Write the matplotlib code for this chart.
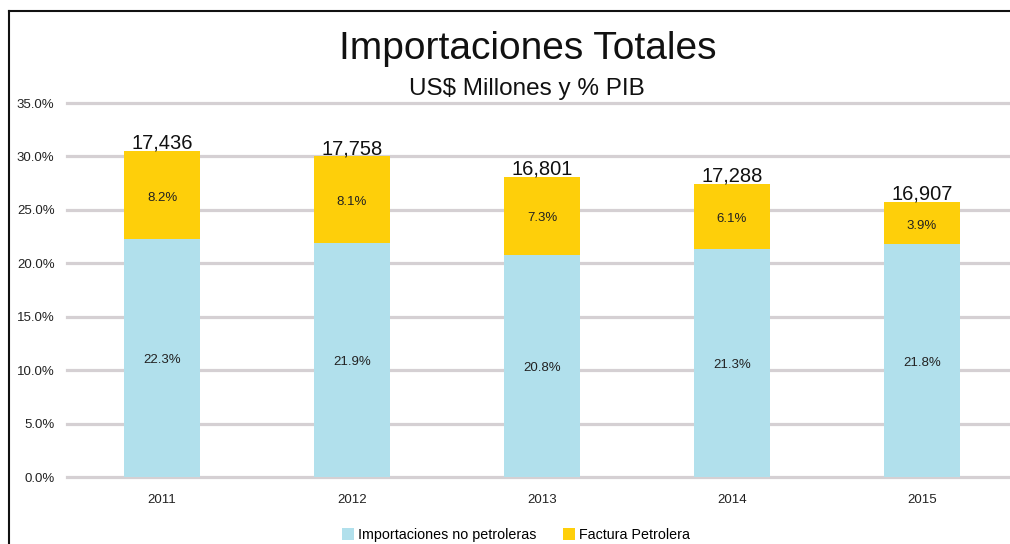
import matplotlib
matplotlib.use("Agg")
import matplotlib.pyplot as plt
from matplotlib.patches import Patch
from matplotlib.lines import Line2D

years = ["2011", "2012", "2013", "2014", "2015"]
no_petroleras = [22.3, 21.9, 20.8, 21.3, 21.8]
factura_petrolera = [8.2, 8.1, 7.3, 6.1, 3.9]
totales = ["17,436", "17,758", "16,801", "17,288", "16,907"]
yticks = [0, 5, 10, 15, 20, 25, 30, 35]

blue = "#b1e0ec"
yellow = "#fecf0a"
grid = "#d5d0d3"

plt.rcParams['font.family'] = ['Liberation Sans', 'DejaVu Sans']

fig = plt.figure(figsize=(10.10, 5.44), dpi=100)
ax = fig.add_axes([67/1010, 67/544, 950/1010, 374/544])

x = list(range(len(years)))
ax.bar(x, no_petroleras, width=0.405, color=blue, zorder=3)
ax.bar(x, factura_petrolera, width=0.405, bottom=no_petroleras, color=yellow, zorder=3)

for i in x:
    ax.text(i, no_petroleras[i] / 2 - 0.2, f"{no_petroleras[i]:.1f}%", ha="center", va="center",
            fontsize=9.5, color="#222222", zorder=4)
    ax.text(i, no_petroleras[i] + factura_petrolera[i] / 2 - 0.25, f"{factura_petrolera[i]:.1f}%",
            ha="center", va="center", fontsize=9.5, color="#222222", zorder=4)
    ax.text(i, no_petroleras[i] + factura_petrolera[i] - 0.15, totales[i], ha="center",
            va="bottom", fontsize=14.5, color="#111111", zorder=4)

ax.set_xlim(-0.5, 4.5)
ax.set_ylim(0, 35)
ax.set_yticks(yticks)
ax.set_yticklabels([f"{t:.1f}%" for t in yticks])
ax.set_xticks(x)
ax.set_xticklabels(years)
ax.tick_params(axis="both", length=0, labelsize=9.5, labelcolor="#222222")
ax.tick_params(axis="y", pad=9)
ax.tick_params(axis="x", pad=12)
ax.yaxis.grid(True, color=grid, linewidth=2.3, zorder=0)
ax.set_axisbelow(True)
for s in ax.spines.values():
    s.set_visible(False)
for gl in ax.get_ygridlines():
    gl.set_clip_on(False)

fig.text(528/1010, 1 - 49/544, "Importaciones Totales", ha="center", va="center",
         fontsize=28, color="#111111")
fig.text(527/1010, 1 - 89/544, "US$ Millones y % PIB", ha="center", va="center",
         fontsize=17.5, color="#111111")

handles = [Patch(facecolor=blue, edgecolor="none"), Patch(facecolor=yellow, edgecolor="none")]
fig.legend(handles, ["Importaciones no petroleras", "Factura Petrolera"], loc="center",
           bbox_to_anchor=(516/1010, 1 - 535/544), ncol=2, frameon=False, fontsize=10.3,
           handlelength=0.85, handleheight=0.85, handletextpad=0.3, columnspacing=1.8)

# outer frame lines (top and left)
fig.add_artist(Line2D([9/1010, 9/1010], [0, 1 - 11/544], transform=fig.transFigure,
                      color="#111111", linewidth=1.5))
fig.add_artist(Line2D([9/1010, 1], [1 - 11/544, 1 - 11/544], transform=fig.transFigure,
                      color="#111111", linewidth=1.5))

fig.savefig("out.png", dpi=100)
